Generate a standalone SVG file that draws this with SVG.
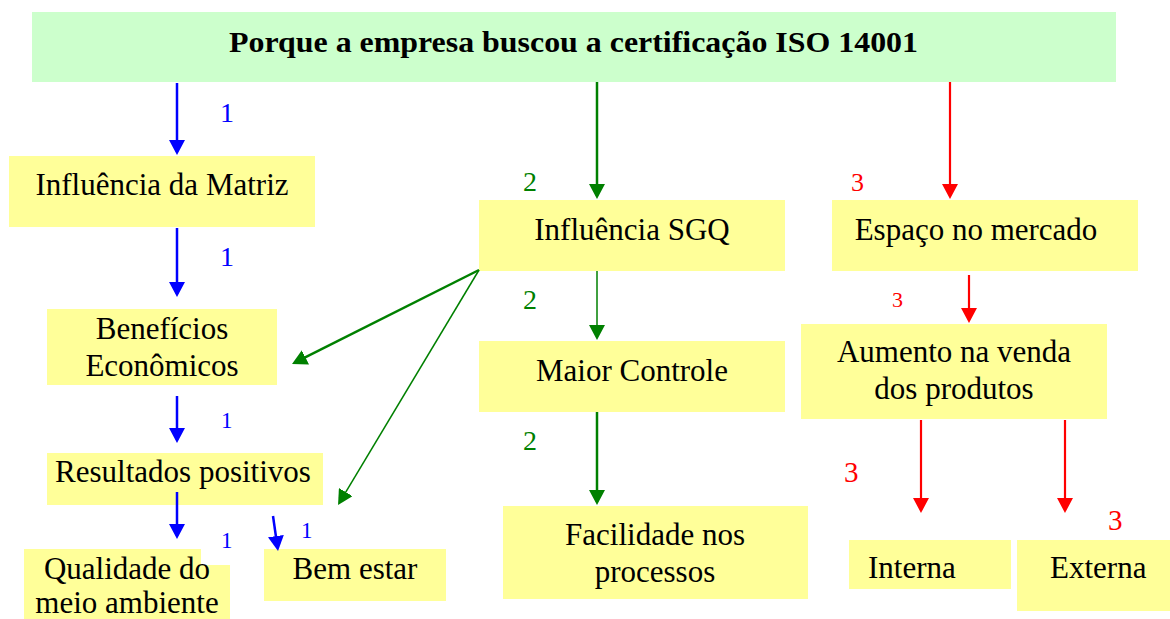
<svg xmlns="http://www.w3.org/2000/svg" width="1170" height="619" viewBox="0 0 1170 619">
<style>
.box{fill:#FFFF99;stroke:none}
.title{fill:#CCFFCC;stroke:none}
text{font-family:"Liberation Serif","Times New Roman",serif}
.t{font-size:31px;fill:#000;text-anchor:middle}
.tl{font-size:31px;fill:#000}
.tt{font-size:30px;font-weight:bold;fill:#000}
.b{fill:#0000FF}
.g{fill:#008000}
.r{fill:#FF0000}
.lb{stroke:#0000FF;stroke-width:2.5;fill:none}
.lg{stroke:#008000;stroke-width:2.5;fill:none}
.lgt{stroke:#008000;stroke-width:1.5;fill:none}
.lr{stroke:#FF0000;stroke-width:2.2;fill:none}
</style>
<defs>
<marker id="ab" viewBox="0 0 15 16" refX="12" refY="8" markerWidth="15" markerHeight="16" markerUnits="userSpaceOnUse" orient="auto"><path d="M0,0 L15,8 L0,16 Z" fill="#0000FF"/></marker>
<marker id="ag" viewBox="0 0 15 16" refX="12" refY="8" markerWidth="15" markerHeight="16" markerUnits="userSpaceOnUse" orient="auto"><path d="M0,0 L15,8 L0,16 Z" fill="#008000"/></marker>
<marker id="ar" viewBox="0 0 15 16" refX="12" refY="8" markerWidth="15" markerHeight="16" markerUnits="userSpaceOnUse" orient="auto"><path d="M0,0 L15,8 L0,16 Z" fill="#FF0000"/></marker>
</defs>
<rect width="1170" height="619" fill="#FFFFFF"/>

<g id="title">
<rect class="title" x="32" y="12" width="1084" height="70"/>
<text class="tt" x="229" y="52" textLength="689" lengthAdjust="spacingAndGlyphs">Porque a empresa buscou a certificação ISO 14001</text>
</g>

<g id="influencia-matriz">
<rect class="box" x="9" y="156" width="306" height="71"/>
<text class="t" x="162" y="195">Influência da Matriz</text>
</g>
<g id="beneficios">
<rect class="box" x="47" y="309" width="230" height="76"/>
<text class="t" x="162" y="339">Benefícios</text>
<text class="t" x="162" y="376">Econômicos</text>
</g>
<g id="resultados">
<rect class="box" x="47" y="453" width="276" height="52"/>
<text class="t" x="183" y="482">Resultados positivos</text>
</g>
<g id="qualidade">
<path class="box" d="M24,549 H201 V565 H230 V619 H24 Z"/>
<text class="t" x="127" y="579">Qualidade do</text>
<text class="t" x="127" y="613">meio ambiente</text>
</g>
<g id="bem-estar">
<rect class="box" x="264" y="549" width="182" height="52"/>
<text class="t" x="355" y="579">Bem estar</text>
</g>

<g id="influencia-sgq">
<rect class="box" x="479" y="200" width="306" height="71"/>
<text class="t" x="632" y="240">Influência SGQ</text>
</g>
<g id="maior-controle">
<rect class="box" x="479" y="341" width="306" height="71"/>
<text class="t" x="632" y="381">Maior Controle</text>
</g>
<g id="facilidade">
<rect class="box" x="503" y="506" width="305" height="93"/>
<text class="t" x="655" y="545">Facilidade nos</text>
<text class="t" x="655" y="582">processos</text>
</g>

<g id="espaco">
<rect class="box" x="832" y="200" width="306" height="71"/>
<text class="t" x="976" y="240">Espaço no mercado</text>
</g>
<g id="aumento">
<rect class="box" x="801" y="324" width="306" height="95"/>
<text class="t" x="954" y="362">Aumento na venda</text>
<text class="t" x="954" y="399">dos produtos</text>
</g>
<g id="interna">
<rect class="box" x="849" y="540" width="162" height="49"/>
<text class="tl" x="868" y="578">Interna</text>
</g>
<g id="externa">
<rect class="box" x="1017" y="540" width="153" height="71"/>
<text class="tl" x="1050" y="578">Externa</text>
</g>

<g id="connectors">
<line class="lb" x1="177" y1="83" x2="177" y2="152" marker-end="url(#ab)"/>
<line class="lb" x1="177" y1="228" x2="177" y2="294" marker-end="url(#ab)"/>
<line class="lb" x1="177" y1="396" x2="177" y2="440" marker-end="url(#ab)"/>
<line class="lb" x1="177" y1="492" x2="177" y2="536" marker-end="url(#ab)"/>
<line class="lb" x1="273" y1="516" x2="277.6" y2="548" marker-end="url(#ab)"/>

<line class="lg" x1="597" y1="82" x2="597" y2="196" marker-end="url(#ag)"/>
<line class="lgt" x1="597" y1="271" x2="597" y2="337" marker-end="url(#ag)"/>
<line class="lg" x1="597" y1="412" x2="597" y2="502" marker-end="url(#ag)"/>
<line class="lg" x1="479" y1="270" x2="294.7" y2="362.7" marker-end="url(#ag)"/>
<line class="lgt" x1="479" y1="270" x2="339.6" y2="502.4" marker-end="url(#ag)"/>

<line class="lr" x1="950" y1="82" x2="950" y2="196" marker-end="url(#ar)"/>
<line class="lr" x1="969" y1="275" x2="969" y2="320" marker-end="url(#ar)"/>
<line class="lr" x1="921" y1="420" x2="921" y2="510" marker-end="url(#ar)"/>
<line class="lr" x1="1065" y1="420" x2="1065" y2="510" marker-end="url(#ar)"/>
</g>

<g id="labels">
<text class="b" x="220" y="122" font-size="28">1</text>
<text class="b" x="220" y="266" font-size="28">1</text>
<text class="b" x="221" y="428" font-size="23">1</text>
<text class="b" x="221" y="548" font-size="23">1</text>
<text class="b" x="301" y="538" font-size="23">1</text>
<text class="g" x="523" y="191" font-size="28">2</text>
<text class="g" x="523" y="309" font-size="28">2</text>
<text class="g" x="523" y="450" font-size="28">2</text>
<text class="r" x="851" y="191" font-size="26">3</text>
<text class="r" x="892" y="307" font-size="22">3</text>
<text class="r" x="844" y="482" font-size="29">3</text>
<text class="r" x="1108" y="530" font-size="29">3</text>
</g>
</svg>
